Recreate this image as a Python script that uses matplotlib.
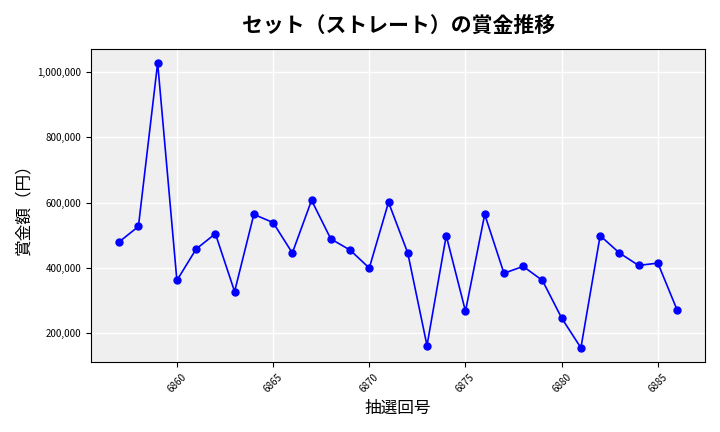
import matplotlib.pyplot as plt
from matplotlib.ticker import FuncFormatter

plt.rcParams['font.family'] = ['Noto Sans CJK JP', 'DejaVu Sans']

draws = list(range(6857, 6887))
prizes = [480000, 527000, 1027000, 362000, 458000, 505000, 328000, 564000, 539000, 446000,
          607000, 489000, 455000, 400000, 601000, 446000, 163000, 499000, 268000, 564000,
          384000, 405000, 362000, 247000, 156000, 499000, 446000, 408000, 415000, 272000]

fig, ax = plt.subplots(figsize=(7.2, 4.32), dpi=100)
ax.set_facecolor('#efefef')
ax.plot(draws, prizes, color='blue', marker='o', markersize=5, linewidth=1.2)
ax.grid(True, color='white', linewidth=1)
ax.set_axisbelow(True)
ax.set_title('セット（ストレート）の賞金推移', fontsize=15, fontweight='bold', pad=12)
ax.set_xlabel('抽選回号', fontsize=12)
ax.set_ylabel('賞金額（円）', fontsize=12)
ax.set_xticks([6860, 6865, 6870, 6875, 6880, 6885])
ax.tick_params(axis='x', labelsize=7, rotation=45)
ax.tick_params(axis='y', labelsize=7)
ax.yaxis.set_major_formatter(FuncFormatter(lambda x, p: f'{int(x):,}'))
plt.tight_layout()
plt.savefig('out.png')
